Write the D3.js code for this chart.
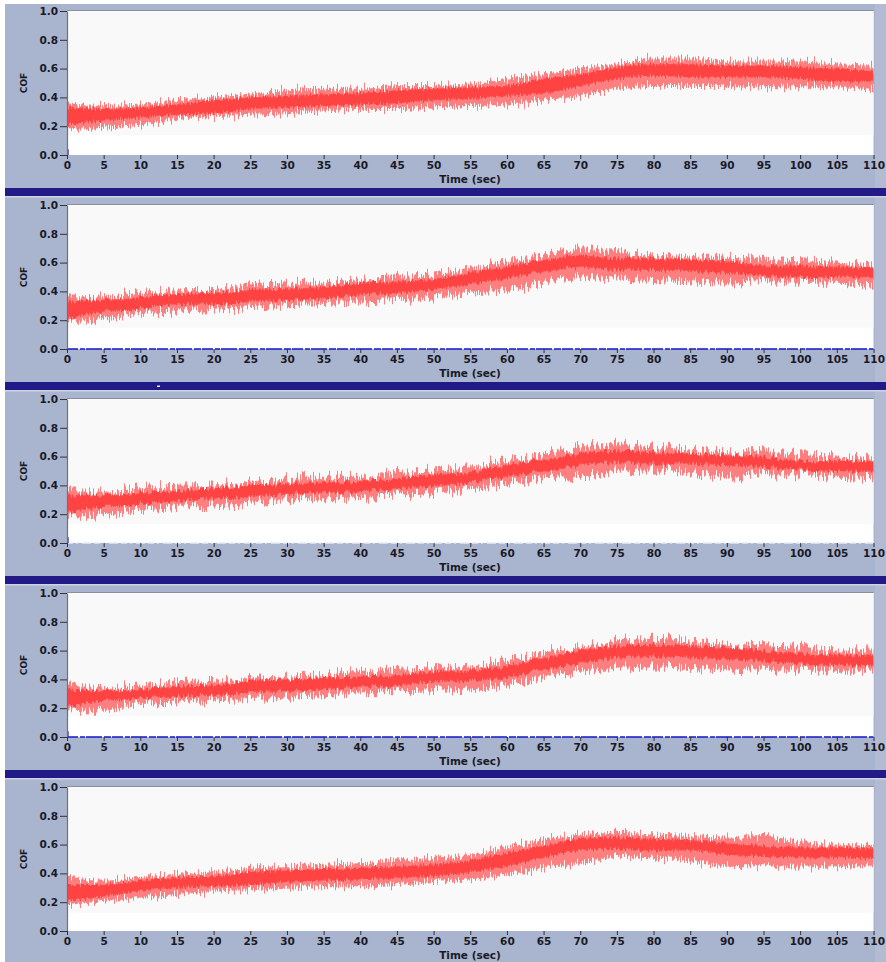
<!DOCTYPE html>
<html><head><meta charset="utf-8">
<script src="https://cdn.jsdelivr.net/npm/d3@7"></script>
<style>body{margin:0;background:#fff}svg{display:block}</style>
</head><body>
<svg id="chart" width="886" height="962"></svg>
<script>
// ---------- data ----------
const timeSec = [0,5,10,15,20,25,30,35,40,45,50,55,60,65,70,75,80,85,90,95,100,105,110];
const xTickValues = [0,5,10,15,20,25,30,35,40,45,50,55,60,65,70,75,80,85,90,95,100,105,110];
const yTickValues = [0,0.2,0.4,0.6,0.8,1.0];
const xLabel = "Time (sec)";
const yLabel = "COF";

// panel 1
const p1CoreHi  = [0.33,0.32,0.33,0.35,0.38,0.40,0.41,0.42,0.43,0.45,0.46,0.47,0.48,0.53,0.56,0.61,0.63,0.63,0.62,0.62,0.61,0.60,0.58];
const p1CoreLo  = [0.21,0.24,0.26,0.28,0.29,0.32,0.33,0.34,0.35,0.36,0.38,0.39,0.41,0.43,0.48,0.53,0.55,0.54,0.54,0.54,0.53,0.51,0.51];
const p1SpikeHi = [0.35,0.34,0.35,0.38,0.40,0.42,0.45,0.46,0.46,0.48,0.48,0.49,0.53,0.56,0.60,0.63,0.67,0.67,0.65,0.65,0.65,0.63,0.62];
const p1SpikeLo = [0.17,0.19,0.21,0.25,0.27,0.28,0.29,0.31,0.32,0.32,0.33,0.34,0.35,0.38,0.41,0.46,0.48,0.48,0.48,0.47,0.47,0.47,0.45];
// panel 2
const p2CoreHi  = [0.33,0.34,0.36,0.38,0.39,0.41,0.42,0.43,0.46,0.47,0.48,0.53,0.57,0.62,0.65,0.63,0.63,0.62,0.61,0.58,0.58,0.57,0.56];
const p2CoreLo  = [0.21,0.26,0.28,0.31,0.31,0.33,0.34,0.35,0.38,0.39,0.41,0.45,0.49,0.54,0.57,0.55,0.55,0.54,0.53,0.51,0.50,0.50,0.49];
const p2SpikeHi = [0.35,0.36,0.39,0.40,0.41,0.45,0.46,0.46,0.48,0.50,0.51,0.56,0.61,0.65,0.70,0.68,0.65,0.64,0.64,0.62,0.61,0.60,0.58];
const p2SpikeLo = [0.17,0.21,0.25,0.26,0.28,0.29,0.31,0.32,0.33,0.34,0.35,0.39,0.41,0.46,0.50,0.49,0.48,0.47,0.46,0.47,0.46,0.46,0.43];
// panel 3
const p3CoreHi  = [0.33,0.33,0.35,0.36,0.38,0.40,0.41,0.42,0.43,0.45,0.47,0.49,0.54,0.58,0.62,0.64,0.63,0.62,0.61,0.60,0.57,0.57,0.56];
const p3CoreLo  = [0.21,0.25,0.27,0.29,0.31,0.32,0.34,0.35,0.36,0.38,0.39,0.42,0.46,0.50,0.54,0.56,0.55,0.55,0.54,0.53,0.51,0.50,0.49];
const p3SpikeHi = [0.35,0.35,0.38,0.39,0.40,0.42,0.45,0.46,0.46,0.48,0.49,0.53,0.57,0.61,0.67,0.69,0.67,0.65,0.63,0.63,0.61,0.60,0.58];
const p3SpikeLo = [0.16,0.20,0.23,0.25,0.26,0.28,0.31,0.31,0.32,0.33,0.34,0.38,0.41,0.45,0.46,0.50,0.51,0.49,0.46,0.47,0.47,0.46,0.45];
// panel 4
const p4CoreHi  = [0.33,0.32,0.33,0.35,0.36,0.39,0.40,0.41,0.42,0.43,0.45,0.46,0.49,0.55,0.60,0.63,0.64,0.63,0.62,0.60,0.58,0.57,0.56];
const p4CoreLo  = [0.21,0.25,0.27,0.28,0.29,0.31,0.32,0.33,0.35,0.36,0.38,0.39,0.41,0.47,0.51,0.55,0.56,0.55,0.54,0.53,0.51,0.50,0.49];
const p4SpikeHi = [0.35,0.34,0.35,0.38,0.39,0.41,0.42,0.43,0.46,0.46,0.47,0.49,0.53,0.58,0.62,0.67,0.69,0.67,0.64,0.63,0.62,0.60,0.60];
const p4SpikeLo = [0.17,0.19,0.23,0.24,0.26,0.27,0.28,0.29,0.31,0.31,0.32,0.33,0.36,0.41,0.46,0.48,0.49,0.48,0.47,0.46,0.46,0.46,0.46];
// panel 5
const p5CoreHi  = [0.32,0.32,0.35,0.37,0.38,0.41,0.42,0.43,0.44,0.45,0.46,0.49,0.54,0.59,0.64,0.65,0.64,0.63,0.61,0.59,0.58,0.58,0.57];
const p5CoreLo  = [0.21,0.24,0.28,0.30,0.31,0.32,0.34,0.35,0.36,0.37,0.38,0.41,0.45,0.51,0.56,0.57,0.56,0.56,0.53,0.52,0.51,0.51,0.50];
const p5SpikeHi = [0.37,0.35,0.37,0.39,0.41,0.44,0.45,0.46,0.47,0.49,0.50,0.53,0.58,0.63,0.67,0.69,0.67,0.66,0.65,0.66,0.61,0.60,0.59];
const p5SpikeLo = [0.17,0.21,0.23,0.25,0.28,0.29,0.30,0.31,0.31,0.32,0.34,0.36,0.39,0.44,0.47,0.52,0.51,0.49,0.45,0.45,0.44,0.45,0.45];

// lower edge of the light plot field (below it the field is white)
const fieldBottom = [0.138,0.148,0.133,0.143,0.127];
// second (blue) channel: drawn as a line at zero in some panels
const blueChannelT = [0,110];
const blueChannelV = [0,0];
const blueStartMark = [0,0.04];

// ---------- layout / style ----------
const W = 886, H = 962;
const plotL = 67, plotR = 873.5;
const pitch = 194, firstTop = 11, plotH = 144;
const bgBlue = "#a9b4ce", navy = "#221a86", field = "#f9f9f9";
const red = "#ff4242", redLight = "#ff6a6a";
const fontFam = "'DejaVu Sans', Verdana, sans-serif";

const panelData = [
  {hi:p1CoreHi, lo:p1CoreLo, shi:p1SpikeHi, slo:p1SpikeLo, zero:null,   mark:true},
  {hi:p2CoreHi, lo:p2CoreLo, shi:p2SpikeHi, slo:p2SpikeLo, zero:"blue", mark:false},
  {hi:p3CoreHi, lo:p3CoreLo, shi:p3SpikeHi, slo:p3SpikeLo, zero:"white",mark:true},
  {hi:p4CoreHi, lo:p4CoreLo, shi:p4SpikeHi, slo:p4SpikeLo, zero:"blue", mark:true},
  {hi:p5CoreHi, lo:p5CoreLo, shi:p5SpikeHi, slo:p5SpikeLo, zero:null,   mark:false}
];

const svg = d3.select("#chart");
const defs = svg.append("defs");

// jagged texture: displaces columns vertically, then recolours (visual texture only)
function roughFilter(id, freqX, scale, seed, color, alpha) {
  const f = defs.append("filter").attr("id", id).attr("filterUnits","userSpaceOnUse")
    .attr("color-interpolation-filters","sRGB")
    .attr("x",0).attr("y",0).attr("width",W).attr("height",H);
  f.append("feTurbulence").attr("type","fractalNoise").attr("baseFrequency",`${freqX} 0.001`)
    .attr("numOctaves",1).attr("seed",seed).attr("result","n");
  f.append("feColorMatrix").attr("in","n").attr("type","matrix")
    .attr("values","0 0 0 0 0.5  0 1 0 0 0  0 0 0 0 0  0 0 0 0 1").attr("result","m");
  f.append("feDisplacementMap").attr("in","SourceGraphic").attr("in2","m")
    .attr("scale",scale).attr("xChannelSelector","R").attr("yChannelSelector","G").attr("result","d");
  f.append("feFlood").attr("flood-color",color).attr("flood-opacity",alpha).attr("result","c");
  f.append("feComposite").attr("in","c").attr("in2","d").attr("operator","in");
}
roughFilter("roughOuter", 0.7, 26, 3, redLight, 0.85);
roughFilter("roughCore", 0.6, 10, 7, red, 1);

svg.append("rect").attr("x",0).attr("y",0).attr("width",W).attr("height",H).attr("fill","#ffffff");
svg.append("rect").attr("x",5).attr("y",4).attr("width",W-5).attr("height",H-4).attr("fill",bgBlue);
svg.append("rect").attr("x",875).attr("y",4).attr("width",11).attr("height",H-4).attr("fill","#b2bbd2");

const x = d3.scaleLinear().domain([0,110]).range([plotL, plotR]);

panelData.forEach((p, k) => {
  const top = firstTop + pitch*k;
  const y = d3.scaleLinear().domain([0,1]).range([top+plotH, top]);
  const g = svg.append("g");

  if (k < 4) {
    g.append("rect").attr("x",5).attr("y",top+177).attr("width",W-5).attr("height",8).attr("fill",navy);
    g.append("rect").attr("x",5).attr("y",top+185).attr("width",W-5).attr("height",1.5).attr("fill","#cfd4e2");
  }
  if (k === 1) g.append("rect").attr("x",157).attr("y",top+180.5).attr("width",3).attr("height",1.5).attr("fill","#e8e8f4");

  g.append("rect").attr("x",plotL).attr("y",y(1)).attr("width",plotR-plotL).attr("height",y(0)-y(1)).attr("fill","#ffffff");
  g.append("rect").attr("x",plotL).attr("y",y(1)).attr("width",plotR-plotL).attr("height",y(fieldBottom[k])-y(1)).attr("fill",field);
  g.append("line").attr("x1",plotL).attr("x2",plotR).attr("y1",y(1)-0.5).attr("y2",y(1)-0.5).attr("stroke","#8a8f9c").attr("stroke-width",1);

  const clipId = "clip"+k;
  defs.append("clipPath").attr("id",clipId).append("rect")
    .attr("x",plotL+0.5).attr("y",y(1)).attr("width",plotR-plotL).attr("height",y(0)-y(1));

  const rows = timeSec.map((t,i) => ({t, hi:p.hi[i], lo:p.lo[i], shi:p.shi[i], slo:p.slo[i]}));
  const spikeArea = d3.area().x(d=>x(d.t)).y0(d=>y(d.slo)).y1(d=>y(d.shi)).curve(d3.curveMonotoneX);
  const coreArea  = d3.area().x(d=>x(d.t)).y0(d=>y(d.lo)).y1(d=>y(d.hi)).curve(d3.curveMonotoneX);
  const sig = g.append("g").attr("clip-path",`url(#${clipId})`);
  sig.append("path").datum(rows).attr("d",spikeArea).attr("fill",redLight).attr("filter","url(#roughOuter)");
  sig.append("path").datum(rows).attr("d",coreArea).attr("fill",red).attr("filter","url(#roughCore)");

  if (p.zero) {
    const ln = d3.line().x((d,i)=>x(blueChannelT[i])).y(d=>y(d));
    g.append("path").datum(blueChannelV).attr("d",ln)
      .attr("stroke", p.zero==="blue" ? "#1616c8" : "#e9ecf6")
      .attr("stroke-width",1.6).attr("fill","none")
      .attr("stroke-dasharray", p.zero==="blue" ? "11 2 5 1 16 2 7 1" : "6 3 2 4 9 3");
  }
  if (p.mark) {
    g.append("line").attr("x1",x(0)+0.8).attr("x2",x(0)+0.8)
      .attr("y1",y(blueStartMark[0])).attr("y2",y(blueStartMark[1]))
      .attr("stroke","#1a1ab0").attr("stroke-width",1.6);
  }

  const ax = g.append("g").attr("transform",`translate(${plotL},0)`)
    .call(d3.axisLeft(y).tickValues(yTickValues).tickFormat(d3.format(".1f")).tickSize(7).tickPadding(2).tickSizeOuter(0));
  ax.select(".domain").attr("stroke","#6d717c").attr("stroke-width",1.2);
  ax.selectAll(".tick line").attr("stroke","#333");
  ax.selectAll("text").attr("font-family",fontFam).attr("font-weight","bold").attr("font-size","10.5px").attr("fill","#1a1a26");

  const bx = g.append("g").attr("transform",`translate(0,${y(0)})`)
    .call(d3.axisBottom(x).tickValues(xTickValues).tickSize(4).tickPadding(3).tickSizeOuter(0));
  bx.select(".domain").remove();
  bx.selectAll(".tick line").attr("stroke","#333");
  bx.selectAll("text").attr("font-family",fontFam).attr("font-weight","bold").attr("font-size","10.5px").attr("fill","#1a1a26");

  g.append("text").attr("x",470).attr("y",y(0)+28).attr("text-anchor","middle")
    .attr("font-family",fontFam).attr("font-weight","bold").attr("font-size","10.5px").attr("fill","#1a1a26").text(xLabel);
  g.append("text").attr("transform",`translate(27,${top+72}) rotate(-90)`).attr("text-anchor","middle")
    .attr("font-family",fontFam).attr("font-weight","bold").attr("font-size","9px").attr("fill","#1a1a26").text(yLabel);
});
</script>
</body></html>
